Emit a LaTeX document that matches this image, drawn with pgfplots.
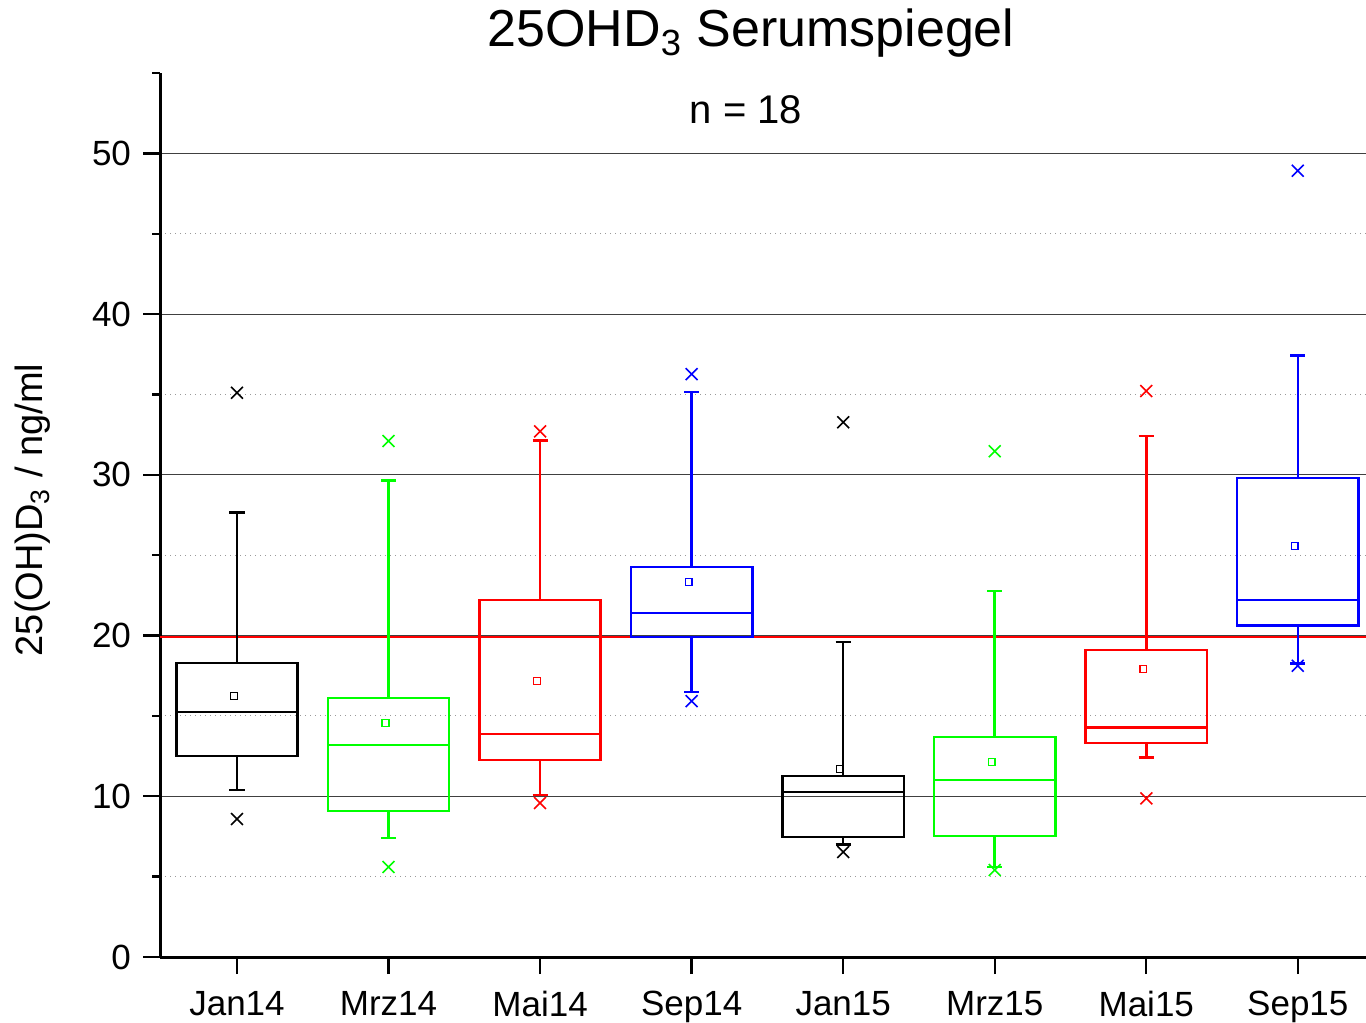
\documentclass[border=0pt]{standalone}
\usepackage{fontspec}
\setmainfont{Liberation Sans}
\usepackage{pgfplots}
\pgfplotsset{compat=1.18}
\usepgfplotslibrary{statistics}
\definecolor{pgreen}{RGB}{0,255,0}
\definecolor{pblue}{RGB}{0,0,255}
\definecolor{pred}{RGB}{255,0,0}
\pgfplotsset{bx/.style={line width=1.25pt, mark=x, mark options={line width=0.8pt, mark size=4.2pt, solid}}}
\begin{document}
\begin{tikzpicture}
\useasboundingbox (0,0) rectangle (683pt,511.5pt);
\begin{axis}[
  at={(80pt,33pt)}, anchor=south west,
  width=603pt, height=442pt, scale only axis,
  xmin=0.492, xmax=8.45, ymin=0, ymax=55,
  axis x line*=bottom, axis y line*=left,
  axis line style={line width=1.5pt, -},
  xtick={1,...,8},
  xticklabels={Jan14,Mrz14,Mai14,Sep14,Jan15,Mrz15,Mai15,Sep15},
  ytick={0,10,...,50}, minor ytick={5,15,...,45},
  extra y ticks={55}, extra y tick labels={},
  extra y tick style={major tick length=4pt, grid=none},
  tick align=outside, major tick length=8.5pt, minor tick length=4pt,
  tick style={line width=1.2pt, black},
  ymajorgrids, yminorgrids,
  major grid style={line width=0.5pt, black!75, solid},
  minor grid style={line width=0.5pt, gray!80, dotted},
  tick label style={font=\fontsize{17.5}{20}\selectfont},
  xticklabel style={yshift=-5pt},
  yticklabel style={xshift=-2.5pt},
  /pgf/number format/assume math mode=true,
  clip=false,
  boxplot/draw direction=y,
  boxplot/box extend=0.8, boxplot/whisker extend=0.1,
]
\addplot[pred, line width=1.1pt] coordinates {(0.492,19.9) (8.45,19.9)};

% Jan14
\addplot[black, bx,
  boxplot prepared={draw position=1, lower whisker=10.39, lower quartile=12.5, median=15.24, upper quartile=18.28, upper whisker=27.67}]
  table[row sep=\\, y index=0] {35.1\\ 8.58\\};
% Mrz14
\addplot[pgreen, bx,
  boxplot prepared={draw position=2, lower whisker=7.4, lower quartile=9.08, median=13.18, upper quartile=16.1, upper whisker=29.66}]
  table[row sep=\\, y index=0] {32.1\\ 5.6\\};
% Mai14
\addplot[pred, bx,
  boxplot prepared={draw position=3, lower whisker=10.07, lower quartile=12.25, median=13.87, upper quartile=22.2, upper whisker=32.15}]
  table[row sep=\\, y index=0] {32.7\\ 9.58\\};
% Sep14
\addplot[pblue, bx,
  boxplot prepared={draw position=4, lower whisker=16.48, lower quartile=19.9, median=21.39, upper quartile=24.25, upper whisker=35.14}]
  table[row sep=\\, y index=0] {36.26\\ 15.92\\};
% Jan15
\addplot[black, bx,
  boxplot prepared={draw position=5, lower whisker=7.0, lower quartile=7.46, median=10.26, upper quartile=11.26, upper whisker=19.59}]
  table[row sep=\\, y index=0] {33.27\\ 6.53\\};
% Mrz15
\addplot[pgreen, bx,
  boxplot prepared={draw position=6, lower whisker=5.6, lower quartile=7.52, median=11.0, upper quartile=13.68, upper whisker=22.76}]
  table[row sep=\\, y index=0] {31.47\\ 5.41\\};
% Mai15
\addplot[pred, bx,
  boxplot prepared={draw position=7, lower whisker=12.42, lower quartile=13.31, median=14.29, upper quartile=19.09, upper whisker=32.41}]
  table[row sep=\\, y index=0] {35.21\\ 9.87\\};
% Sep15
\addplot[pblue, bx,
  boxplot prepared={draw position=8, lower whisker=18.26, lower quartile=20.62, median=22.21, upper quartile=29.79, upper whisker=37.41}]
  table[row sep=\\, y index=0] {48.92\\ 18.12\\};

% means
\addplot[only marks, black, mark=square, mark size=1.7pt, line width=0.7pt] coordinates {(0.98,16.23) (4.98,11.69)};
\addplot[only marks, pgreen, mark=square, mark size=1.7pt, line width=0.7pt] coordinates {(1.98,14.55) (5.98,12.13)};
\addplot[only marks, pred, mark=square, mark size=1.7pt, line width=0.7pt] coordinates {(2.98,17.16) (6.98,17.93)};
\addplot[only marks, pblue, mark=square, mark size=1.7pt, line width=0.7pt] coordinates {(3.98,23.32) (7.98,25.57)};
\end{axis}
\node[anchor=base, font=\fontsize{26}{30}\selectfont] at (375.5pt,488pt) {25OHD\textsubscript{3} Serumspiegel};
\node[anchor=base, font=\fontsize{20}{24}\selectfont] at (373pt,449.5pt) {n = 18};
\node[rotate=90, font=\fontsize{19}{22}\selectfont] at (16.5pt,256.5pt) {25(OH)D\textsubscript{3} / ng/ml};
\end{tikzpicture}
\end{document}
